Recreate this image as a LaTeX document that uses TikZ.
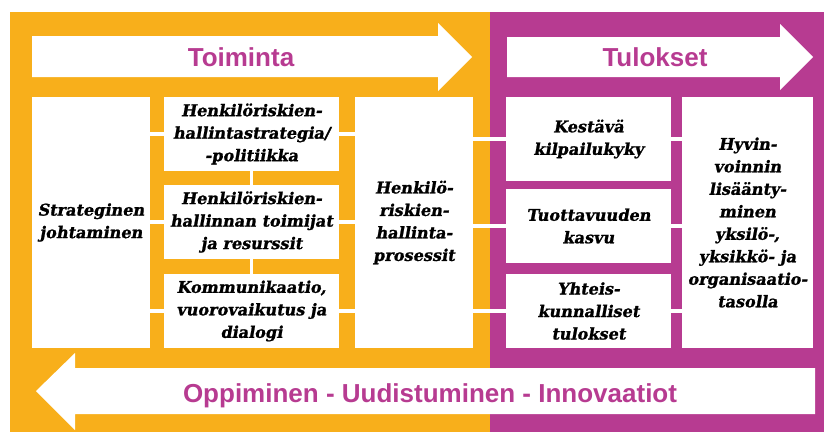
\documentclass[tikz,border=0pt]{standalone}
\usepackage{fontspec}
\setmainfont{DejaVu Serif}
\newfontfamily\bxfam{DejaVu Serif}[FakeSlant=0.18, BoldFeatures={FakeBold=1.2}]
\newfontfamily\headfont{Liberation Sans}
\newcommand{\bxfont}{\bxfam\bfseries\fontsize{16.1}{22.5}\selectfont}
\definecolor{orng}{HTML}{F8AF1B}
\definecolor{purp}{HTML}{B73B91}
\begin{document}
\begin{tikzpicture}[x=1pt,y=-1pt,
  box/.style={fill=white, inner sep=0pt, align=center, font=\bxfont, text=black},
  link/.style={draw=white, line width=3.5pt},
  arrowfill/.style={fill=white},
  head/.style={font=\headfont\fontsize{26}{30}\selectfont\bfseries, text=purp, anchor=base}]
\useasboundingbox (0,0) rectangle (825,432);
% backgrounds
\fill[orng] (10,12) rectangle (490,432);
\fill[purp] (490,12) rectangle (824,432);
% arrows
\fill[arrowfill] (32,36) -- (438,36) -- (438,23) -- (472,57) -- (438,91) -- (438,77) -- (32,77) -- cycle;
\fill[arrowfill] (507,37) -- (780,37) -- (780,24) -- (813,57) -- (780,90) -- (780,77) -- (507,77) -- cycle;
\fill[arrowfill] (815,368) -- (75,368) -- (75,353) -- (36,391) -- (75,430) -- (75,414) -- (815,414) -- cycle;
\node[head] (toim) at (241,66) {Toiminta};
\node[head] (tulo) at (655,66) {Tulokset};
\node[head] (oppi) at (430,402) {Oppiminen - Uudistuminen - Innovaatiot};
% boxes
\node[box, minimum width=118pt, minimum height=251pt] (strat) at (91,222.5) {Strateginen\\johtaminen};
\node[box, minimum width=175pt, minimum height=74pt] (A) at (251.5,134) {Henkilöriskien-\\hallintastrategia/\\-politiikka};
\node[box, minimum width=175pt, minimum height=74pt] (B) at (251.5,222) {Henkilöriskien-\\hallinnan toimijat\\ja resurssit};
\node[box, minimum width=175pt, minimum height=74pt] (C) at (251.5,311) {Kommunikaatio,\\vuorovaikutus ja\\dialogi};
\node[box, minimum width=118pt, minimum height=251pt] (proc) at (414,222.5) {Henkilö-\\riskien-\\hallinta-\\prosessit};
\node[box, minimum width=165pt, minimum height=84pt] (K) at (588.5,139) {Kestävä\\kilpailukyky};
\node[box, minimum width=165pt, minimum height=74pt] (T) at (588.5,226) {Tuottavuuden\\kasvu};
\node[box, minimum width=165pt, minimum height=74pt] (Y) at (588.5,311) {Yhteis-\\kunnalliset\\tulokset};
\node[box, minimum width=131pt, minimum height=251pt] (H) at (747.5,222.5) {Hyvin-\\voinnin\\lisäänty-\\minen\\yksilö-,\\yksikkö- ja\\organisaatio-\\tasolla};
% connectors
\draw[link] (strat.east |- A.west) -- (A.west);
\draw[link] (strat.east |- B.west) -- (B.west);
\draw[link] (strat.east |- C.west) -- (C.west);
\draw[link] (A.east) -- (proc.west |- A.east);
\draw[link] (B.east) -- (proc.west |- B.east);
\draw[link] (C.east) -- (proc.west |- C.east);
\draw[link] (A.south) -- (B.north);
\draw[link] (B.south) -- (C.north);
\draw[link] (proc.east |- K.west) -- (K.west);
\draw[link] (proc.east |- T.west) -- (T.west);
\draw[link] (proc.east |- Y.west) -- (Y.west);
\draw[link] (K.east) -- (H.west |- K.east);
\draw[link] (T.east) -- (H.west |- T.east);
\draw[link] (Y.east) -- (H.west |- Y.east);
\end{tikzpicture}
\end{document}
